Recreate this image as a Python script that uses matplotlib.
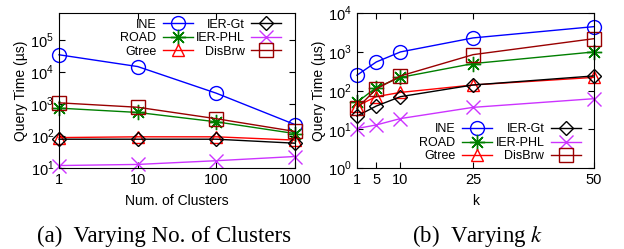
import numpy as np
import matplotlib.pyplot as plt

plt.rcParams['font.family'] = ['Liberation Sans', 'DejaVu Sans']
plt.rcParams['mathtext.fontset'] = 'custom'
plt.rcParams['mathtext.rm'] = 'Liberation Sans'

# (a) varying number of clusters
clusters = [1, 10, 100, 1000]
ine_a = [3.5e4, 1.5e4, 2.2e3, 2.3e2]
road_a = [750, 550, 280, 120]
gtree_a = [90, 95, 95, 75]
iergt_a = [80, 80, 80, 60]
ierphl_a = [12, 13, 17, 23]
disbrw_a = [1100, 800, 350, 140]

# (b) varying k
k_vals = [1, 5, 10, 25, 50]
ine_b = [250, 550, 1000, 2300, 4500]
road_b = [50, 120, 220, 500, 1000]
gtree_b = [40, 70, 90, 140, 220]
iergt_b = [22, 40, 70, 140, 240]
ierphl_b = [10.5, 13, 19, 37, 62]
disbrw_b = [35, 110, 240, 850, 2200]

styles = {
    'INE': dict(color='#0000ff', marker='o', ms=10),
    'ROAD': dict(color='#007f00', marker=(8, 2, 0), ms=11),
    'Gtree': dict(color='#ff0000', marker='^', ms=9),
    'IER-Gt': dict(color='#000000', marker='D', ms=7.5),
    'IER-PHL': dict(color='#cc33ff', marker='x', ms=10),
    'DisBrw': dict(color='#990000', marker='s', ms=9.5),
}


def draw(ax, x, series):
    for name, y in series:
        st = styles[name]
        ax.plot(x, y, label=name, color=st['color'], marker=st['marker'],
                ms=st['ms'], mfc='none', mec=st['color'], mew=1.0, lw=1.0,
                clip_on=False)
    ax.tick_params(which='both', direction='in', top=True, right=True,
                   labelsize=10.5)
    ax.tick_params(which='minor', length=0)
    ax.tick_params(which='major', length=4)


fig = plt.figure(figsize=(6.24, 2.49), dpi=100)
ax1 = fig.add_axes([0.0946, 0.325, 0.378, 0.622])
ax2 = fig.add_axes([0.572, 0.325, 0.380, 0.622])

leg_kw = dict(ncol=2, markerfirst=False, frameon=False, fontsize=9,
              handlelength=2.4, columnspacing=0.3, handletextpad=0.5,
              labelspacing=0.12, borderpad=0.2)

draw(ax1, clusters, [('INE', ine_a), ('ROAD', road_a), ('Gtree', gtree_a),
                     ('IER-Gt', iergt_a), ('IER-PHL', ierphl_a),
                     ('DisBrw', disbrw_a)])
ax1.set_xscale('log')
ax1.set_yscale('log')
ax1.set_xlim(1, 1000)
ax1.set_ylim(10, 7e5)
ax1.set_xticks(clusters)
ax1.set_xticklabels(['1', '10', '100', '1000'])
ax1.set_yticks([1e1, 1e2, 1e3, 1e4, 1e5])
ax1.set_yticklabels([r'$10^{%d}$' % i for i in range(1, 6)])
ax1.set_xlabel('Num. of Clusters', fontsize=10, labelpad=5)
ax1.set_ylabel('Query Time (µs)', fontsize=10, labelpad=2)
ax1.legend(loc='upper right', bbox_to_anchor=(0.98, 1.02), **leg_kw)

draw(ax2, k_vals, [('INE', ine_b), ('ROAD', road_b), ('Gtree', gtree_b),
                   ('IER-Gt', iergt_b), ('IER-PHL', ierphl_b),
                   ('DisBrw', disbrw_b)])
ax2.set_yscale('log')
ax2.set_xlim(1, 50)
ax2.set_ylim(1, 1e4)
ax2.set_xticks(k_vals)
ax2.set_xticklabels([str(v) for v in k_vals])
ax2.set_yticks([1e0, 1e1, 1e2, 1e3, 1e4])
ax2.set_yticklabels([r'$10^{%d}$' % i for i in range(0, 5)])
ax2.set_xlabel('k', fontsize=10, labelpad=5)
ax2.set_ylabel('Query Time (µs)', fontsize=10, labelpad=2)
ax2.legend(loc='lower right', bbox_to_anchor=(0.98, -0.02), **leg_kw)

fig.text(0.263, 0.03, '(a)  Varying No. of Clusters', ha='center',
         fontsize=16.5, family='Liberation Serif')
fig.text(0.765, 0.03, '(b)  Varying $k$', ha='center', fontsize=16.5,
         family='Liberation Serif', math_fontfamily='stix')

fig.savefig('out.png', dpi=100)
